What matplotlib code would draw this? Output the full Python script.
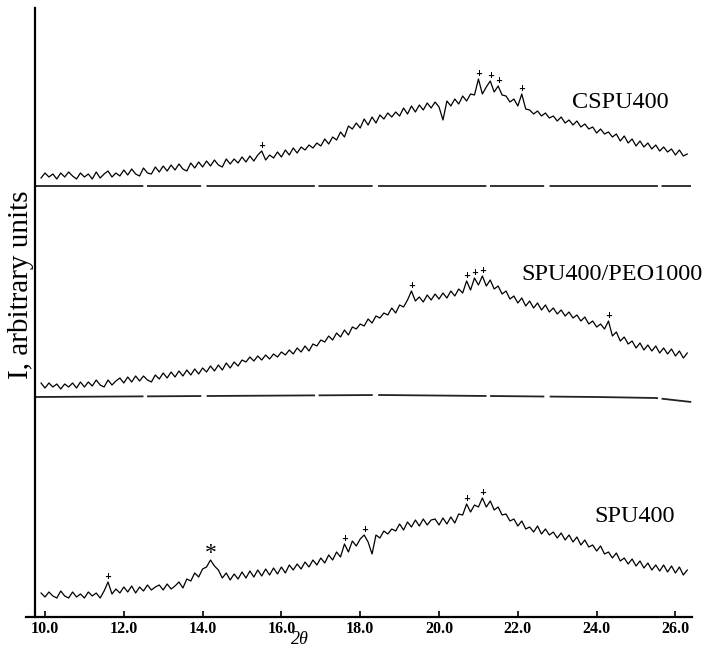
import numpy as np
import matplotlib
matplotlib.use('Agg')
import matplotlib.pyplot as plt

# 2-theta sample positions (0.1 deg steps, 9.9 .. 26.3)
two_theta = np.round(np.arange(9.9, 26.31, 0.1), 1)

# intensities above each trace's own base line (arbitrary units)
cspu400 = [
    8, 13, 9, 12, 7, 13, 9, 14, 10, 7,
    13, 9, 12, 7, 14, 8, 12, 15, 9, 13,
    10, 16, 11, 17, 12, 10, 18, 13, 12, 19,
    14, 20, 15, 21, 16, 22, 17, 15, 23, 18,
    24, 19, 25, 20, 26, 21, 19, 27, 22, 27,
    23, 29, 24, 30, 25, 31, 35, 26, 31, 28,
    34, 29, 36, 31, 38, 33, 39, 36, 41, 38,
    43, 40, 47, 42, 49, 46, 54, 49, 60, 57,
    63, 58, 67, 61, 69, 63, 71, 67, 73, 69,
    74, 70, 78, 72, 80, 74, 81, 76, 83, 78,
    84, 79, 66, 85, 80, 87, 82, 90, 85, 92,
    91, 107, 92, 99, 105, 94, 100, 91, 90, 84,
    87, 80, 92, 77, 76, 72, 75, 70, 73, 68,
    70, 65, 69, 63, 66, 61, 65, 59, 62, 57,
    59, 53, 57, 52, 54, 49, 52, 45, 50, 43,
    47, 40, 45, 39, 43, 37, 41, 35, 39, 34,
    37, 31, 36, 30, 32,
]
spu400_peo1000 = [
    14, 9, 14, 10, 13, 8, 13, 10, 14, 9,
    15, 10, 15, 11, 17, 12, 10, 17, 12, 16,
    19, 14, 20, 15, 21, 16, 21, 17, 15, 22,
    18, 24, 19, 25, 20, 26, 21, 27, 22, 28,
    23, 29, 25, 31, 26, 32, 27, 34, 29, 35,
    31, 37, 35, 40, 36, 41, 37, 42, 38, 43,
    40, 45, 42, 47, 43, 49, 45, 51, 46, 53,
    51, 57, 55, 61, 57, 64, 60, 67, 62, 70,
    68, 73, 71, 78, 74, 81, 79, 84, 82, 89,
    84, 92, 90, 97, 106, 96, 100, 95, 102, 97,
    103, 98, 104, 99, 106, 101, 108, 104, 116, 107,
    119, 112, 121, 111, 117, 108, 111, 103, 106, 98,
    101, 94, 99, 91, 96, 89, 94, 87, 92, 85,
    89, 83, 87, 81, 85, 79, 82, 76, 80, 73,
    76, 70, 73, 68, 76, 61, 65, 56, 60, 53,
    56, 49, 54, 47, 52, 46, 51, 44, 49, 43,
    48, 41, 46, 39, 44,
]
spu400 = [
    24, 20, 25, 21, 19, 26, 21, 19, 25, 20,
    23, 19, 25, 21, 24, 19, 26, 35, 23, 28,
    24, 30, 25, 31, 24, 30, 26, 32, 27, 30,
    32, 27, 33, 28, 31, 35, 29, 38, 36, 44,
    40, 48, 50, 57, 51, 47, 39, 44, 37, 43,
    38, 45, 39, 46, 40, 47, 41, 48, 42, 49,
    43, 50, 44, 52, 47, 53, 48, 55, 50, 57,
    52, 59, 54, 62, 57, 65, 60, 73, 65, 76,
    71, 78, 82, 75, 63, 82, 79, 86, 83, 88,
    86, 93, 87, 95, 90, 97, 91, 98, 92, 97,
    98, 92, 99, 93, 100, 94, 103, 102, 113, 105,
    112, 110, 119, 110, 116, 107, 110, 102, 103, 96,
    98, 91, 96, 88, 90, 85, 91, 83, 88, 82,
    85, 79, 84, 77, 82, 75, 80, 72, 77, 70,
    72, 66, 71, 63, 65, 59, 64, 56, 59, 53,
    58, 51, 56, 49, 54, 47, 52, 46, 52, 45,
    51, 44, 50, 42, 47,
]

samples = ['CSPU400', 'SPU400/PEO1000', 'SPU400']
offsets = [431, 220, 0]

# instrument base lines drawn under the two upper scans
top_base_x = [9.75, 26.4]
top_base_y = [431, 431]
mid_base_x = [9.75, 18.5, 24.0, 25.5, 26.4]
mid_base_y = [220, 222, 220, 219, 215]

# crystalline reflections marked with '+' (and '*' for SPU400 14.2)
plus_cspu = [15.5, 21.0, 21.3, 21.5, 22.1]
plus_peo = [19.3, 20.7, 20.9, 21.1, 24.3]
plus_spu = [11.6, 17.6, 18.1, 20.7, 21.1]
star_spu = [14.2]

xticks = [10.0, 12.0, 14.0, 16.0, 18.0, 20.0, 22.0, 24.0, 26.0]

fig = plt.figure(figsize=(7.04, 6.48), dpi=100)
ax = fig.add_axes([26 / 704, 1 - 617 / 648, 666 / 704, 609 / 648])
ax.set_xlim(9.518, 26.42)
ax.set_ylim(0, 609)

traces = [cspu400, spu400_peo1000, spu400]
for vals, off in zip(traces, offsets):
    ax.plot(two_theta, np.array(vals) + off, color='black', lw=0.9)

ax.plot(top_base_x, top_base_y, color='#222222', lw=1.3, dashes=(60, 2, 30, 3))
ax.plot(mid_base_x, mid_base_y, color='#222222', lw=1.3, dashes=(60, 2, 30, 3))


def mark(xs, vals, off, sym, size, gap, weight='bold', family='DejaVu Sans'):
    for x in xs:
        i = int(np.argmin(np.abs(two_theta - x)))
        ax.text(two_theta[i], vals[i] + off + gap, sym, ha='center', va='bottom',
                fontsize=size, fontweight=weight, family=family)


mark(plus_cspu, cspu400, offsets[0], '+', 6, 1)
mark(plus_peo, spu400_peo1000, offsets[1], '+', 6, 1)
mark(plus_spu, spu400, offsets[2], '+', 6, 1)
mark(star_spu, spu400, offsets[2], '*', 17, -4, weight='normal',
     family='Liberation Serif')

label_pos = [(620, 103), (612, 275), (635, 517)]
for name, (px, py) in zip(samples, label_pos):
    fig.text(px / 704, 1 - py / 648, name, ha='center', va='center',
             fontsize=17.5, family='Liberation Serif')

fig.text(21 / 704, 1 - 285 / 648, 'I, arbitrary units', rotation=90,
         ha='center', va='center', fontsize=21, family='Liberation Serif')
fig.text(300 / 704, 1 - 639 / 648, '2θ', ha='center', va='center',
         fontsize=13, style='italic', family='Liberation Serif')

for s in ['top', 'right']:
    ax.spines[s].set_visible(False)
ax.spines['left'].set_position(('data', 9.75))
ax.spines['left'].set_linewidth(1.6)
ax.spines['bottom'].set_linewidth(1.6)
ax.set_yticks([])
ax.set_xticks(xticks)
ax.set_xticklabels(['%.1f' % t for t in xticks], fontsize=11.5, fontweight='bold',
                   family='Liberation Serif')
ax.tick_params(axis='x', direction='in', length=4, width=1.2, pad=3)

fig.savefig('out.png', dpi=100)
